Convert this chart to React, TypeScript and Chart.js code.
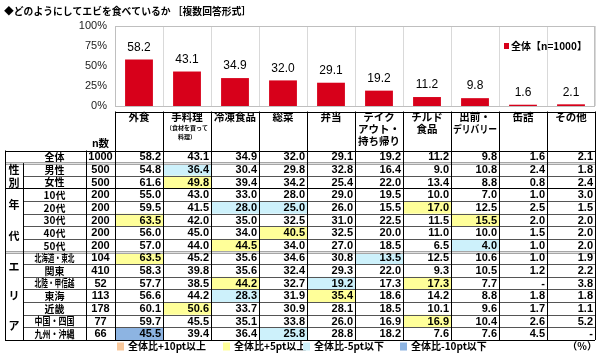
import React, { useEffect, useRef } from 'react';
import { Chart, registerables } from 'chart.js';
Chart.register(...registerables);

const title = '◆どのようにしてエビを食べているか ［複数回答形式］';
const seriesLabel = '全体【n=1000】';
const categories = ['外食', '手料理', '冷凍食品', '総菜', '弁当', 'テイクアウト・持ち帰り', 'チルド食品', '出前・デリバリー', '缶詰', 'その他'];
const headerLines = [['外食'], ['手料理'], ['冷凍食品'], ['総菜'], ['弁当'], ['テイク', 'アウト・', '持ち帰り'], ['チルド', '食品'], ['出前・', 'デリバリー'], ['缶詰'], ['その他']];
const headerNotes = [[], ['（食材を買って', '料理）'], [], [], [], [], [], [], [], []];
const totalValues = [58.2, 43.1, 34.9, 32.0, 29.1, 19.2, 11.2, 9.8, 1.6, 2.1];
const yTicks = [0, 25, 50, 75, 100];

const rowLabels = ['全体', '男性', '女性', '10代', '20代', '30代', '40代', '50代', '北海道・東北', '関東', '北陸・甲信越', '東海', '近畿', '中国・四国', '九州・沖縄'];
const rowN = [1000, 500, 500, 200, 200, 200, 200, 200, 104, 410, 52, 113, 178, 77, 66];
const rowValues: (number | null)[][] = [
  [58.2, 43.1, 34.9, 32.0, 29.1, 19.2, 11.2, 9.8, 1.6, 2.1],
  [54.8, 36.4, 30.4, 29.8, 32.8, 16.4, 9.0, 10.8, 2.4, 1.8],
  [61.6, 49.8, 39.4, 34.2, 25.4, 22.0, 13.4, 8.8, 0.8, 2.4],
  [55.0, 43.0, 33.0, 28.0, 29.0, 19.5, 10.0, 7.0, 1.0, 3.0],
  [59.5, 41.5, 28.0, 25.0, 26.0, 15.5, 17.0, 12.5, 2.5, 1.5],
  [63.5, 42.0, 35.0, 32.5, 31.0, 22.5, 11.5, 15.5, 2.0, 2.0],
  [56.0, 45.0, 34.0, 40.5, 32.5, 20.0, 11.0, 10.0, 1.5, 2.0],
  [57.0, 44.0, 44.5, 34.0, 27.0, 18.5, 6.5, 4.0, 1.0, 2.0],
  [63.5, 45.2, 35.6, 34.6, 30.8, 13.5, 12.5, 10.6, 1.0, 1.9],
  [58.3, 39.8, 35.6, 32.4, 29.3, 22.0, 9.3, 10.5, 1.2, 2.2],
  [57.7, 38.5, 44.2, 32.7, 19.2, 17.3, 17.3, 7.7, null, 3.8],
  [56.6, 44.2, 28.3, 31.9, 35.4, 18.6, 14.2, 8.8, 1.8, 1.8],
  [60.1, 50.6, 33.7, 30.9, 28.1, 18.5, 10.1, 9.6, 1.7, 1.1],
  [59.7, 45.5, 35.1, 33.8, 26.0, 16.9, 16.9, 10.4, 2.6, 5.2],
  [45.5, 39.4, 36.4, 25.8, 28.8, 18.2, 7.6, 7.6, 4.5, null],
];
const groupNames = ['性別', '年代', 'エリア'];
const groupSizes = [2, 5, 7];
const legendLabels = ['全体比+10pt以上', '全体比+5pt以上', '全体比-5pt以下', '全体比-10pt以下'];
const unitLabel = '（%）';

const BAR = '#D7001A';
const HIGHLIGHT = ['#F9C89B', '#FFFF99', '#CDF1FB', '#8DB4E2'];
const JP = "'Noto Sans CJK JP', sans-serif";
const NUM = "'Liberation Sans', Arial, sans-serif";

function highlightIndex(v: number | null, c: number, r: number) {
  if (v === null || r === 0) return -1;
  const d = v - totalValues[c];
  if (d >= 10) return 0;
  if (d >= 5) return 1;
  if (d <= -10) return 3;
  if (d <= -5) return 2;
  return -1;
}

const framePlugin = {
  id: 'frame',
  beforeDatasetsDraw(chart: any) {
    const { ctx, chartArea: a } = chart;
    ctx.save();
    ctx.strokeStyle = '#BFBFBF';
    ctx.lineWidth = 1;
    ctx.strokeRect(Math.round(a.left) + 0.5, Math.round(a.top) + 0.5, Math.round(a.right - a.left) - 1, Math.round(a.bottom - a.top));
    ctx.restore();
  },
};

const labelPlugin = {
  id: 'valueLabels',
  afterDatasetsDraw(chart: any) {
    const { ctx } = chart;
    const meta = chart.getDatasetMeta(0);
    ctx.save();
    ctx.font = `12px ${NUM}`;
    ctx.fillStyle = '#000';
    ctx.textAlign = 'center';
    ctx.textBaseline = 'middle';
    meta.data.forEach((el: any, i: number) => {
      const { x, y } = el.getProps(['x', 'y'], true);
      ctx.fillText(totalValues[i].toFixed(1), x, y - 12);
    });
    // title
    ctx.textAlign = 'left';
    ctx.font = `bold 9.8px ${JP}`;
    ctx.fillStyle = '#000';
    ctx.fillText(title, 4, 11);
    // series legend
    ctx.fillStyle = BAR;
    ctx.fillRect(504, 43, 5, 6);
    ctx.fillStyle = '#000';
    ctx.font = `bold 10px ${JP}`;
    ctx.fillText(seriesLabel, 511, 46.5);
    ctx.restore();
  },
};

const tablePlugin = {
  id: 'table',
  afterDraw(chart: any) {
    const { ctx, chartArea: area } = chart;
    const xs = chart.scales.x;
    const step = xs.getPixelForValue(1) - xs.getPixelForValue(0);
    const colC = (i: number) => xs.getPixelForValue(i);
    const colL = (i: number) => colC(i) - step / 2;
    const colR = (i: number) => colC(i) + step / 2;
    const px = (v: number) => Math.round(v) + 0.5;
    const right = colR(categories.length - 1);
    const xL = 5, xG = 23, xN = 86, xD = area.left;
    const headTop = 111.5, bodyTop = 150.5, bodyBottom = 340;
    const rowH = (bodyBottom - bodyTop) / rowLabels.length;
    const rowTop = (r: number) => bodyTop + r * rowH;
    ctx.save();

    // fills
    rowValues.forEach((vals, r) => {
      vals.forEach((v, c) => {
        const h = highlightIndex(v, c, r);
        if (h >= 0) {
          ctx.fillStyle = HIGHLIGHT[h];
          ctx.fillRect(colL(c), rowTop(r), step, rowH);
        }
      });
    });

    const hLine = (x1: number, x2: number, y: number, color = '#333', w = 1) => {
      ctx.strokeStyle = color;
      ctx.lineWidth = w;
      ctx.beginPath();
      ctx.moveTo(x1, px(y));
      ctx.lineTo(x2, px(y));
      ctx.stroke();
    };
    const vLine = (x: number, y1: number, y2: number) => {
      ctx.strokeStyle = '#000';
      ctx.lineWidth = 1;
      ctx.beginPath();
      ctx.moveTo(px(x), y1);
      ctx.lineTo(px(x), y2);
      ctx.stroke();
    };

    const groupEnds: number[] = [];
    let acc = 1;
    groupSizes.forEach((s) => { acc += s; groupEnds.push(acc); });

    // horizontal lines
    hLine(xD, right, headTop, '#000');
    hLine(xL, right, bodyTop, '#000');
    for (let r = 1; r < rowLabels.length; r++) {
      const y = rowTop(r);
      if (r === 1 || r === groupEnds[1]) {
        hLine(xL, right, y, '#A6A6A6', 3);
        hLine(xL, right, y, '#E0E0E0', 1);
      } else if (groupEnds.includes(r)) {
        hLine(xL, right, y, '#000', 1);
      } else {
        hLine(xG, right, y, '#555', 1);
      }
    }
    hLine(xL, right, bodyBottom, '#000');

    // vertical lines
    vLine(xL, bodyTop, bodyBottom);
    vLine(xG, rowTop(1), bodyBottom);
    vLine(xN, bodyTop, bodyBottom);
    vLine(xD, headTop, bodyBottom);
    categories.forEach((_, c) => vLine(colR(c), headTop, bodyBottom));

    // header text
    ctx.fillStyle = '#000';
    ctx.textAlign = 'center';
    ctx.textBaseline = 'middle';
    const lineYs = [117.5, 129.5, 141];
    headerLines.forEach((lines, c) => {
      ctx.font = `bold 10.5px ${JP}`;
      lines.forEach((t, k) => ctx.fillText(t, colC(c), lineYs[k], step - 4));
      ctx.font = `bold 6px ${JP}`;
      headerNotes[c].forEach((t, k) => ctx.fillText(t, colC(c), [128, 136.5][k], step - 4));
    });
    ctx.font = `bold 10.5px ${JP}`;
    ctx.fillText('n数', (xN + xD) / 2, 143);

    // body text
    rowLabels.forEach((lab, r) => {
      const cy = rowTop(r) + rowH / 2 + 0.5;
      ctx.textAlign = 'center';
      ctx.font = `bold 10px ${JP}`;
      ctx.fillText(lab, (xG + xN) / 2, cy, 40);
      ctx.font = `bold 11px ${NUM}`;
      ctx.fillText(String(rowN[r]), (xN + xD) / 2, cy);
      ctx.textAlign = 'right';
      rowValues[r].forEach((v, c) => {
        ctx.fillText(v === null ? '-' : v.toFixed(1), colR(c) - 2, cy);
      });
    });

    // group labels
    ctx.textAlign = 'center';
    ctx.font = `bold 11px ${JP}`;
    let start = 1;
    groupNames.forEach((name, g) => {
      const top = rowTop(start);
      const h = groupSizes[g] * rowH;
      const chars = Array.from(name);
      chars.forEach((ch, k) => {
        ctx.fillText(ch, (xL + xG) / 2, top + h * (k + 0.5) / chars.length + 0.5);
      });
      start += groupSizes[g];
    });

    // bottom legend
    const legX = [117, 223, 303, 400];
    const ly = 346.5;
    ctx.textAlign = 'left';
    ctx.font = `bold 10px ${JP}`;
    legendLabels.forEach((t, i) => {
      ctx.fillStyle = HIGHLIGHT[i];
      ctx.fillRect(legX[i], ly - 4, 7, 8);
      ctx.fillStyle = '#000';
      ctx.fillText(t, legX[i] + 11, ly);
    });
    ctx.textAlign = 'right';
    ctx.fillText(unitLabel, right + 2, ly);
    ctx.restore();
  },
};

export default function App() {
  const ref = useRef<HTMLCanvasElement>(null);
  useEffect(() => {
    document.body.style.margin = '0';
    const chart = new Chart(ref.current as HTMLCanvasElement, {
      type: 'bar',
      data: {
        labels: categories,
        datasets: [{
          label: seriesLabel,
          data: totalValues,
          backgroundColor: BAR,
          categoryPercentage: 1,
          barPercentage: 0.58,
        }],
      },
      options: {
        responsive: false,
        animation: false,
        layout: { padding: { top: 26, right: 5, bottom: 247, left: 0 } },
        plugins: { legend: { display: false }, tooltip: { enabled: false } },
        scales: {
          x: {
            grid: { color: '#D9D9D9', drawTicks: false, offset: true },
            ticks: { display: false },
            border: { display: false },
            afterFit: (s: any) => { s.height = 0; },
          },
          y: {
            min: 0,
            max: 100,
            afterBuildTicks: (s: any) => { s.ticks = yTicks.map((v) => ({ value: v })); },
            ticks: { callback: (v: any) => v + '%', font: { family: NUM, size: 11 }, color: '#222', padding: 8 },
            grid: { display: false, drawTicks: false },
            border: { display: false },
            afterFit: (s: any) => { s.width = 115; },
          },
        },
      },
      plugins: [framePlugin, labelPlugin, tablePlugin],
    });
    return () => chart.destroy();
  }, []);
  return (
    <div style={{ width: 600, height: 353 }}>
      <canvas ref={ref} width={600} height={353} style={{ display: 'block' }} />
    </div>
  );
}
